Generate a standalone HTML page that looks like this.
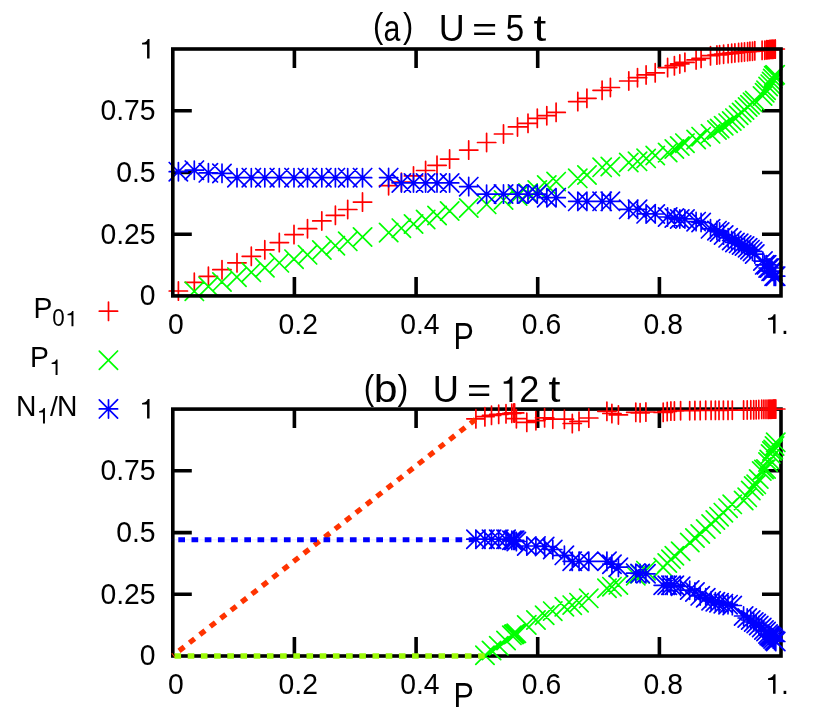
<!DOCTYPE html>
<html><head><meta charset="utf-8"><title>chart</title>
<style>
html,body{margin:0;padding:0;background:#fff}
body{width:830px;height:712px;overflow:hidden;font-family:"Liberation Sans",sans-serif}
svg{display:block;will-change:transform;font-family:"Liberation Sans",sans-serif}
</style></head><body>
<svg width="830" height="712" viewBox="0 0 830 712">
<rect width="830" height="712" fill="#fff"/>
<g id="top">
<path d="M294.4 295.9v-19 M294.4 49v19M416.1 295.9v-19 M416.1 49v19M537.7 295.9v-19 M537.7 49v19M659.4 295.9v-19 M659.4 49v19M172.8 110.8h19 M781 110.8h-19M172.8 172.5h19 M781 172.5h-19M172.8 234.2h19 M781 234.2h-19" stroke="#000" stroke-width="3.6" fill="none"/>
<path d="M169.2 291h18.3M178.4 281.9v18.3M185.2 282.3h18.3M194.3 273.2v18.3M199.2 276.4h18.3M208.4 267.2v18.3M212.8 269.7h18.3M222 260.6v18.3M227.8 262.8h18.3M237 253.7v18.3M242.2 256.3h18.3M251.3 247.2v18.3M255.7 249.8h18.3M264.8 240.7v18.3M270.2 242.6h18.3M279.3 233.4v18.3M284.9 234.6h18.3M294 225.4v18.3M298.4 228.7h18.3M307.5 219.5v18.3M312.7 220.9h18.3M321.8 211.8v18.3M326.2 215.3h18.3M335.4 206.2v18.3M338.6 209.5h18.3M347.7 200.3v18.3M353.4 202.1h18.3M362.5 192.9v18.3M379.5 185.7h18.3M388.6 176.5v18.3M392.2 182.2h18.3M401.4 173v18.3M404.4 175.9h18.3M413.5 166.8v18.3M416.5 170.5h18.3M425.6 161.3v18.3M427.9 165.3h18.3M437 156.2v18.3M440.5 159.1h18.3M449.6 149.9v18.3M459.6 150.1h18.3M468.7 140.9v18.3M477.5 142.5h18.3M486.6 133.3v18.3M494.4 134h18.3M503.5 124.8v18.3M508.4 126.9h18.3M517.5 117.8v18.3M518.9 123.3h18.3M528 114.1v18.3M528.1 118.3h18.3M537.3 109.1v18.3M537.6 115.7h18.3M546.8 106.5v18.3M547 112.4h18.3M556.1 103.2v18.3M568.6 101.6h18.3M577.8 92.4v18.3M577.8 98.3h18.3M586.9 89.1v18.3M593 90.3h18.3M602.1 81.1v18.3M601.2 87.5h18.3M610.4 78.3v18.3M619.6 81h18.3M628.8 71.8v18.3M628.4 77.7h18.3M637.5 68.5v18.3M637 74.9h18.3M646.1 65.8v18.3M646.1 72.8h18.3M655.2 63.6v18.3M658.5 67.6h18.3M667.6 58.4v18.3M665.2 65.7h18.3M674.4 56.6v18.3M670.6 63.9h18.3M679.8 54.8v18.3M675.8 62.4h18.3M684.9 53.2v18.3M687 59.9h18.3M696.1 50.8v18.3M692 58.4h18.3M701.1 49.2v18.3M701.4 55.7h18.3M710.5 46.6v18.3M707.8 55h18.3M716.9 45.9v18.3M710.5 54.6h18.3M719.6 45.5v18.3M714.5 54.1h18.3M723.6 45v18.3M719 53.6h18.3M728.1 44.5v18.3M722.6 53.2h18.3M731.7 44.1v18.3M725.8 52.9h18.3M734.9 43.8v18.3M729.5 52.5h18.3M738.6 43.4v18.3M732.5 52.2h18.3M741.6 43.1v18.3M735.4 51.9h18.3M744.5 42.8v18.3M738.5 51.6h18.3M747.6 42.5v18.3M740.8 51.4h18.3M749.9 42.2v18.3M743.4 51.1h18.3M752.5 42v18.3M745.6 50.8h18.3M754.8 41.6v18.3M753 50.3h18.3M762.1 41.1v18.3M755.6 50.1h18.3M764.8 41v18.3M757.5 49.8h18.3M766.6 40.6v18.3M758.9 49.7h18.3M768 40.5v18.3M760.4 49.5h18.3M769.5 40.4v18.3M761.8 49.4h18.3M771 40.2v18.3M763.2 49.3h18.3M772.4 40.1v18.3M764.7 49.1h18.3M773.8 40v18.3M766.1 49h18.3M775.3 39.9v18.3" stroke="#f00" stroke-width="1.7" stroke-linecap="round" fill="none"/>
<path d="M185.2 282.2l18.3 18.3M185.2 300.4l18.3 -18.3M199.2 277.4l18.3 18.3M199.2 295.6l18.3 -18.3M212.8 272.8l18.3 18.3M212.8 291l18.3 -18.3M227.8 268l18.3 18.3M227.8 286.2l18.3 -18.3M242.2 263.2l18.3 18.3M242.2 281.4l18.3 -18.3M255.7 258.6l18.3 18.3M255.7 276.8l18.3 -18.3M270.2 253.7l18.3 18.3M270.2 272l18.3 -18.3M284.9 250l18.3 18.3M284.9 268.2l18.3 -18.3M298.4 245.7l18.3 18.3M298.4 263.9l18.3 -18.3M312.7 240.8l18.3 18.3M312.7 259.1l18.3 -18.3M326.2 236.5l18.3 18.3M326.2 254.8l18.3 -18.3M338.6 232.2l18.3 18.3M338.6 250.5l18.3 -18.3M353.4 227.8l18.3 18.3M353.4 246.2l18.3 -18.3M379.5 223.4l18.3 18.3M379.5 241.8l18.3 -18.3M392.2 219l18.3 18.3M392.2 237.3l18.3 -18.3M404.4 214.8l18.3 18.3M404.4 233.1l18.3 -18.3M416.5 210.3l18.3 18.3M416.5 228.7l18.3 -18.3M427.9 206.3l18.3 18.3M427.9 224.7l18.3 -18.3M440.5 201.8l18.3 18.3M440.5 220.2l18.3 -18.3M459.6 198.8l18.3 18.3M459.6 217.1l18.3 -18.3M477.5 195.2l18.3 18.3M477.5 213.5l18.3 -18.3M494.4 190.8l18.3 18.3M494.4 209.2l18.3 -18.3M508.4 186.8l18.3 18.3M508.4 205.2l18.3 -18.3M518.9 183.8l18.3 18.3M518.9 202.2l18.3 -18.3M528.1 180.8l18.3 18.3M528.1 199.2l18.3 -18.3M537.6 175.8l18.3 18.3M537.6 194.2l18.3 -18.3M547 172.4l18.3 18.3M547 190.8l18.3 -18.3M568.6 169.2l18.3 18.3M568.6 187.5l18.3 -18.3M577.8 165.8l18.3 18.3M577.8 184.1l18.3 -18.3M593 158.2l18.3 18.3M593 176.5l18.3 -18.3M601.2 157.3l18.3 18.3M601.2 175.7l18.3 -18.3M619.6 153.3l18.3 18.3M619.6 171.7l18.3 -18.3M628.4 152.2l18.3 18.3M628.4 170.5l18.3 -18.3M637 149.2l18.3 18.3M637 167.6l18.3 -18.3M646.1 146.3l18.3 18.3M646.1 164.7l18.3 -18.3M658.5 143.4l18.3 18.3M658.5 161.8l18.3 -18.3M665.2 139.8l18.3 18.3M665.2 158.2l18.3 -18.3M670.6 136.9l18.3 18.3M670.6 155.2l18.3 -18.3M675.8 134l18.3 18.3M675.8 152.3l18.3 -18.3M687 130.4l18.3 18.3M687 148.8l18.3 -18.3M692 127.5l18.3 18.3M692 145.8l18.3 -18.3M701.4 124.7l18.3 18.3M701.4 143l18.3 -18.3M707.8 120.8l18.3 18.3M707.8 139.2l18.3 -18.3M710.5 119.3l18.3 18.3M710.5 137.7l18.3 -18.3M714.5 116.6l18.3 18.3M714.5 134.9l18.3 -18.3M719 114l18.3 18.3M719 132.3l18.3 -18.3M722.6 111.8l18.3 18.3M722.6 130.1l18.3 -18.3M725.8 109l18.3 18.3M725.8 127.4l18.3 -18.3M729.5 106.1l18.3 18.3M729.5 124.5l18.3 -18.3M732.5 103.4l18.3 18.3M732.5 121.8l18.3 -18.3M735.4 100.8l18.3 18.3M735.4 119.2l18.3 -18.3M738.5 97.8l18.3 18.3M738.5 116.2l18.3 -18.3M740.8 95.6l18.3 18.3M740.8 114l18.3 -18.3M743.4 93.1l18.3 18.3M743.4 111.5l18.3 -18.3M745.6 91.3l18.3 18.3M745.6 109.7l18.3 -18.3M753.4 86.8l18.3 18.3M753.4 105.1l18.3 -18.3M755.5 83.6l18.3 18.3M755.5 102l18.3 -18.3M756.9 81.1l18.3 18.3M756.9 99.5l18.3 -18.3M759 77.4l18.3 18.3M759 95.8l18.3 -18.3M761.1 75l18.3 18.3M761.1 93.4l18.3 -18.3M762.5 72.3l18.3 18.3M762.5 90.7l18.3 -18.3M763.6 69.3l18.3 18.3M763.6 87.7l18.3 -18.3M764.6 66.6l18.3 18.3M764.6 85l18.3 -18.3M766 65.6l18.3 18.3M766 84l18.3 -18.3" stroke="#0f0" stroke-width="1.7" stroke-linecap="round" fill="none"/>
<path d="M169.2 171.7h18.3M178.4 162.5v18.3M169.2 162.5l18.3 18.3M169.2 180.8l18.3 -18.3M185.2 170.2h18.3M194.3 161v18.3M185.2 161l18.3 18.3M185.2 179.3l18.3 -18.3M199.2 172.8h18.3M208.4 163.7v18.3M199.2 163.7l18.3 18.3M199.2 182l18.3 -18.3M212.8 173.4h18.3M222 164.2v18.3M212.8 164.2l18.3 18.3M212.8 182.6l18.3 -18.3M227.8 177.7h18.3M237 168.5v18.3M227.8 168.5l18.3 18.3M227.8 186.8l18.3 -18.3M242.2 177.7h18.3M251.3 168.5v18.3M242.2 168.5l18.3 18.3M242.2 186.8l18.3 -18.3M255.7 177.7h18.3M264.8 168.5v18.3M255.7 168.5l18.3 18.3M255.7 186.8l18.3 -18.3M270.2 177.7h18.3M279.3 168.5v18.3M270.2 168.5l18.3 18.3M270.2 186.8l18.3 -18.3M284.9 177.7h18.3M294 168.5v18.3M284.9 168.5l18.3 18.3M284.9 186.8l18.3 -18.3M298.4 177.7h18.3M307.5 168.5v18.3M298.4 168.5l18.3 18.3M298.4 186.8l18.3 -18.3M312.7 177.7h18.3M321.8 168.5v18.3M312.7 168.5l18.3 18.3M312.7 186.8l18.3 -18.3M326.2 177.7h18.3M335.4 168.5v18.3M326.2 168.5l18.3 18.3M326.2 186.8l18.3 -18.3M338.6 177.7h18.3M347.7 168.5v18.3M338.6 168.5l18.3 18.3M338.6 186.8l18.3 -18.3M353.4 177.7h18.3M362.5 168.5v18.3M353.4 168.5l18.3 18.3M353.4 186.8l18.3 -18.3M379.5 177.6h18.3M388.6 168.4v18.3M379.5 168.4l18.3 18.3M379.5 186.8l18.3 -18.3M392.2 182.9h18.3M401.4 173.8v18.3M392.2 173.8l18.3 18.3M392.2 192.1l18.3 -18.3M404.4 182.9h18.3M413.5 173.8v18.3M404.4 173.8l18.3 18.3M404.4 192.1l18.3 -18.3M416.5 182.9h18.3M425.6 173.8v18.3M416.5 173.8l18.3 18.3M416.5 192.1l18.3 -18.3M427.9 182.9h18.3M437 173.8v18.3M427.9 173.8l18.3 18.3M427.9 192.1l18.3 -18.3M440.5 182.9h18.3M449.6 173.8v18.3M440.5 173.8l18.3 18.3M440.5 192.1l18.3 -18.3M459.6 186.6h18.3M468.7 177.4v18.3M459.6 177.4l18.3 18.3M459.6 195.8l18.3 -18.3M477.5 194.2h18.3M486.6 185v18.3M477.5 185l18.3 18.3M477.5 203.3l18.3 -18.3M494.4 194.1h18.3M503.5 184.9v18.3M494.4 184.9l18.3 18.3M494.4 203.2l18.3 -18.3M508.4 194.1h18.3M517.5 184.9v18.3M508.4 184.9l18.3 18.3M508.4 203.2l18.3 -18.3M518.9 194.1h18.3M528 184.9v18.3M518.9 184.9l18.3 18.3M518.9 203.2l18.3 -18.3M528.1 194.1h18.3M537.3 184.9v18.3M528.1 184.9l18.3 18.3M528.1 203.2l18.3 -18.3M537.6 197.7h18.3M546.8 188.5v18.3M537.6 188.5l18.3 18.3M537.6 206.8l18.3 -18.3M547 197.7h18.3M556.1 188.5v18.3M547 188.5l18.3 18.3M547 206.8l18.3 -18.3M568.6 201.3h18.3M577.8 192.2v18.3M568.6 192.2l18.3 18.3M568.6 210.5l18.3 -18.3M577.8 201.3h18.3M586.9 192.2v18.3M577.8 192.2l18.3 18.3M577.8 210.5l18.3 -18.3M593 201.3h18.3M602.1 192.2v18.3M593 192.2l18.3 18.3M593 210.5l18.3 -18.3M601.2 201.3h18.3M610.4 192.2v18.3M601.2 192.2l18.3 18.3M601.2 210.5l18.3 -18.3M619.6 209.3h18.3M628.8 200.2v18.3M619.6 200.2l18.3 18.3M619.6 218.5l18.3 -18.3M628.4 209.3h18.3M637.5 200.2v18.3M628.4 200.2l18.3 18.3M628.4 218.5l18.3 -18.3M637 213.8h18.3M646.1 204.7v18.3M637 204.7l18.3 18.3M637 223l18.3 -18.3M646.1 214h18.3M655.2 204.8v18.3M646.1 204.8l18.3 18.3M646.1 223.2l18.3 -18.3M658.5 217h18.3M667.6 207.8v18.3M658.5 207.8l18.3 18.3M658.5 226.2l18.3 -18.3M665.2 218h18.3M674.4 208.8v18.3M665.2 208.8l18.3 18.3M665.2 227.2l18.3 -18.3M670.6 218.9h18.3M679.8 209.8v18.3M670.6 209.8l18.3 18.3M670.6 228.1l18.3 -18.3M675.8 218.9h18.3M684.9 209.8v18.3M675.8 209.8l18.3 18.3M675.8 228.1l18.3 -18.3M687 221.6h18.3M696.1 212.4v18.3M687 212.4l18.3 18.3M687 230.8l18.3 -18.3M692 222.5h18.3M701.1 213.3v18.3M692 213.3l18.3 18.3M692 231.7l18.3 -18.3M701.4 228.8h18.3M710.5 219.7v18.3M701.4 219.7l18.3 18.3M701.4 238l18.3 -18.3M707.8 230.6h18.3M716.9 221.4v18.3M707.8 221.4l18.3 18.3M707.8 239.8l18.3 -18.3M710.5 232h18.3M719.6 222.8v18.3M710.5 222.8l18.3 18.3M710.5 241.2l18.3 -18.3M714.5 235.1h18.3M723.6 225.9v18.3M714.5 225.9l18.3 18.3M714.5 244.2l18.3 -18.3M719 237.8h18.3M728.1 228.7v18.3M719 228.7l18.3 18.3M719 247l18.3 -18.3M722.6 240.5h18.3M731.7 231.3v18.3M722.6 231.3l18.3 18.3M722.6 249.7l18.3 -18.3M725.8 242.4h18.3M734.9 233.2v18.3M725.8 233.2l18.3 18.3M725.8 251.6l18.3 -18.3M729.5 243.3h18.3M738.6 234.2v18.3M729.5 234.2l18.3 18.3M729.5 252.5l18.3 -18.3M732.5 245h18.3M741.6 235.8v18.3M732.5 235.8l18.3 18.3M732.5 254.2l18.3 -18.3M735.4 246h18.3M744.5 236.8v18.3M735.4 236.8l18.3 18.3M735.4 255.2l18.3 -18.3M738.5 247.8h18.3M747.6 238.7v18.3M738.5 238.7l18.3 18.3M738.5 256.9l18.3 -18.3M740.8 249.6h18.3M749.9 240.4v18.3M740.8 240.4l18.3 18.3M740.8 258.8l18.3 -18.3M743.4 251.4h18.3M752.5 242.2v18.3M743.4 242.2l18.3 18.3M743.4 260.6l18.3 -18.3M745.6 254.1h18.3M754.8 244.9v18.3M745.6 244.9l18.3 18.3M745.6 263.2l18.3 -18.3M753.8 261.1h18.3M762.9 252v18.3M753.8 252l18.3 18.3M753.8 270.2l18.3 -18.3M755.6 264.9h18.3M764.8 255.7v18.3M755.6 255.7l18.3 18.3M755.6 274l18.3 -18.3M757.5 264.9h18.3M766.6 255.7v18.3M757.5 255.7l18.3 18.3M757.5 274l18.3 -18.3M759 268h18.3M768.1 258.9v18.3M759 258.9l18.3 18.3M759 277.1l18.3 -18.3M760.5 268h18.3M769.6 258.9v18.3M760.5 258.9l18.3 18.3M760.5 277.1l18.3 -18.3M762 271.2h18.3M771.1 262.1v18.3M762 262.1l18.3 18.3M762 280.3l18.3 -18.3M763.5 271.2h18.3M772.6 262.1v18.3M763.5 262.1l18.3 18.3M763.5 280.3l18.3 -18.3M765 276.2h18.3M774.1 267.1v18.3M765 267.1l18.3 18.3M765 285.3l18.3 -18.3M766.5 276.2h18.3M775.6 267.1v18.3M766.5 267.1l18.3 18.3M766.5 285.3l18.3 -18.3" stroke="#00f" stroke-width="1.7" stroke-linecap="round" fill="none"/>
<rect x="172.8" y="49" width="608.2" height="246.9" stroke="#000" stroke-width="3.6" fill="none"/>
<g font-size="28.3" fill="#000"><path transform="translate(139 58.4) scale(0.01382 -0.01322)" d="M763 0H583V1050H223V1180Q400 1190 500 1262T640 1472H763Z"/><text transform="translate(155.6 120.2) scale(1 1.07)" text-anchor="end">0.75</text><text transform="translate(155.6 181.9) scale(1 1.07)" text-anchor="end">0.5</text><text transform="translate(155.6 243.6) scale(1 1.07)" text-anchor="end">0.25</text><text transform="translate(155.6 305.3) scale(1 1.07)" text-anchor="end">0</text><text transform="translate(175.9 333.6) scale(1 1.07)" text-anchor="middle">0</text><text transform="translate(298.2 333.6) scale(1 1.07)" text-anchor="middle">0.2</text><text transform="translate(419.9 333.6) scale(1 1.07)" text-anchor="middle">0.4</text><text transform="translate(541.5 333.6) scale(1 1.07)" text-anchor="middle">0.6</text><text transform="translate(663.2 333.6) scale(1 1.07)" text-anchor="middle">0.8</text><path transform="translate(765 333.6) scale(0.01382 -0.01322)" d="M763 0H583V1050H223V1180Q400 1190 500 1262T640 1472H763Z"/><text transform="translate(780.9 333.6) scale(1 1.07)">.</text></g>
</g>
<g id="bot">
<path d="M294.4 656v-19 M294.4 409.1v19M416.1 656v-19 M416.1 409.1v19M537.7 656v-19 M537.7 409.1v19M659.4 656v-19 M659.4 409.1v19M172.8 470.8h19 M781 470.8h-19M172.8 532.6h19 M781 532.6h-19M172.8 594.3h19 M781 594.3h-19" stroke="#000" stroke-width="3.6" fill="none"/><rect x="172.8" y="409.1" width="608.2" height="246.9" stroke="#000" stroke-width="3.6" fill="none"/>
<g font-size="28.3" fill="#000"><path transform="translate(139 418.5) scale(0.01382 -0.01322)" d="M763 0H583V1050H223V1180Q400 1190 500 1262T640 1472H763Z"/><text transform="translate(155.6 480.2) scale(1 1.07)" text-anchor="end">0.75</text><text transform="translate(155.6 542) scale(1 1.07)" text-anchor="end">0.5</text><text transform="translate(155.6 603.7) scale(1 1.07)" text-anchor="end">0.25</text><text transform="translate(155.6 665.4) scale(1 1.07)" text-anchor="end">0</text><text transform="translate(175.9 693.8) scale(1 1.07)" text-anchor="middle">0</text><text transform="translate(298.2 693.8) scale(1 1.07)" text-anchor="middle">0.2</text><text transform="translate(419.9 693.8) scale(1 1.07)" text-anchor="middle">0.4</text><text transform="translate(541.5 693.8) scale(1 1.07)" text-anchor="middle">0.6</text><text transform="translate(663.2 693.8) scale(1 1.07)" text-anchor="middle">0.8</text><path transform="translate(765 693.8) scale(0.01382 -0.01322)" d="M763 0H583V1050H223V1180Q400 1190 500 1262T640 1472H763Z"/><text transform="translate(780.9 693.8) scale(1 1.07)">.</text></g>
<path d="M466.8 418.8h18.3M475.9 409.7v18.3M475.8 416.7h18.3M484.9 407.6v18.3M482.4 415.4h18.3M491.5 406.2v18.3M489.6 414.4h18.3M498.7 405.2v18.3M496.9 413.8h18.3M506 404.7v18.3M502.7 413.3h18.3M511.8 404.2v18.3M504.6 412.9h18.3M513.8 403.8v18.3M505.5 412.9h18.3M514.6 403.8v18.3M507.2 418.6h18.3M516.4 409.5v18.3M517.6 422.4h18.3M526.8 413.2v18.3M526.8 420.6h18.3M535.9 411.5v18.3M535.5 417.8h18.3M544.6 408.7v18.3M543.6 419.1h18.3M552.8 410v18.3M555.2 419.2h18.3M564.4 410.1v18.3M563.1 423.5h18.3M572.3 414.4v18.3M569.9 421.4h18.3M579 412.2v18.3M579.6 418h18.3M588.8 408.9v18.3M597.8 411.3h18.3M606.9 402.2v18.3M602.8 413.5h18.3M611.9 404.4v18.3M609.2 414.9h18.3M618.4 405.8v18.3M626.6 412.4h18.3M635.8 403.2v18.3M631 412.8h18.3M640.1 403.7v18.3M636.8 412h18.3M645.9 402.9v18.3M654.1 412.4h18.3M663.2 403.2v18.3M658.1 411.5h18.3M667.2 402.4v18.3M661.8 411h18.3M670.9 401.9v18.3M665.2 411h18.3M674.4 401.9v18.3M671.5 410.6h18.3M680.6 401.5v18.3M680.6 410.6h18.3M689.7 401.5v18.3M685.8 410.5h18.3M694.9 401.4v18.3M691.1 410.5h18.3M700.2 401.4v18.3M696.6 410.4h18.3M705.7 401.2v18.3M702 410.4h18.3M711.1 401.2v18.3M706.2 410.3h18.3M715.4 401.2v18.3M709.9 410.3h18.3M719 401.2v18.3M714.2 410.2h18.3M723.4 401.1v18.3M718.9 410.2h18.3M728 401.1v18.3M723.1 410.1h18.3M732.3 401v18.3M734.5 410h18.3M743.6 400.9v18.3M738.1 409.9h18.3M747.2 400.8v18.3M741.6 409.8h18.3M750.8 400.7v18.3M744.6 409.7h18.3M753.7 400.6v18.3M747.1 409.6h18.3M756.2 400.5v18.3M749.6 409.5h18.3M758.8 400.4v18.3M752.6 409.4h18.3M761.7 400.2v18.3M754.8 409.3h18.3M763.9 400.2v18.3M756.9 409.2h18.3M766 400.1v18.3M758.9 409.2h18.3M768 400.1v18.3M760.1 409.2h18.3M769.3 400v18.3M761.5 409.1h18.3M770.6 400v18.3M762.8 409.1h18.3M771.9 400v18.3M764 409.1h18.3M773.2 399.9v18.3M765.4 409h18.3M774.5 399.9v18.3M766.6 409h18.3M775.8 399.9v18.3" stroke="#f00" stroke-width="1.7" stroke-linecap="round" fill="none"/>
<path d="M475.8 646.1l18.3 18.3M475.8 664.4l18.3 -18.3M482.4 641.4l18.3 18.3M482.4 659.6l18.3 -18.3M489.6 636.6l18.3 18.3M489.6 654.9l18.3 -18.3M496.9 631.4l18.3 18.3M496.9 649.6l18.3 -18.3M502.7 626.2l18.3 18.3M502.7 644.5l18.3 -18.3M504.6 625.4l18.3 18.3M504.6 643.6l18.3 -18.3M505.5 624.8l18.3 18.3M505.5 643l18.3 -18.3M507.2 624.1l18.3 18.3M507.2 642.4l18.3 -18.3M517.6 615.8l18.3 18.3M517.6 634l18.3 -18.3M526.8 610.9l18.3 18.3M526.8 629.1l18.3 -18.3M535.5 606.1l18.3 18.3M535.5 624.4l18.3 -18.3M543.6 602l18.3 18.3M543.6 620.2l18.3 -18.3M555.2 597.6l18.3 18.3M555.2 615.9l18.3 -18.3M563.1 596l18.3 18.3M563.1 614.2l18.3 -18.3M569.9 593.5l18.3 18.3M569.9 611.8l18.3 -18.3M579.6 589.2l18.3 18.3M579.6 607.5l18.3 -18.3M597.8 579.1l18.3 18.3M597.8 597.4l18.3 -18.3M602.8 577.5l18.3 18.3M602.8 595.8l18.3 -18.3M609.2 575.8l18.3 18.3M609.2 594l18.3 -18.3M626.6 566.5l18.3 18.3M626.6 584.8l18.3 -18.3M631 564.8l18.3 18.3M631 583l18.3 -18.3M636.8 561.5l18.3 18.3M636.8 579.8l18.3 -18.3M654.1 558.4l18.3 18.3M654.1 576.6l18.3 -18.3M658.1 553.9l18.3 18.3M658.1 572.1l18.3 -18.3M661.8 550.1l18.3 18.3M661.8 568.4l18.3 -18.3M665.2 546.6l18.3 18.3M665.2 564.9l18.3 -18.3M671.5 542.1l18.3 18.3M671.5 560.4l18.3 -18.3M680.6 533.4l18.3 18.3M680.6 551.6l18.3 -18.3M685.8 528.9l18.3 18.3M685.8 547.1l18.3 -18.3M691.1 524.8l18.3 18.3M691.1 543l18.3 -18.3M696.6 519.9l18.3 18.3M696.6 538.1l18.3 -18.3M702 514.9l18.3 18.3M702 533.1l18.3 -18.3M706.2 510.9l18.3 18.3M706.2 529.1l18.3 -18.3M709.9 507.5l18.3 18.3M709.9 525.8l18.3 -18.3M714.2 503.5l18.3 18.3M714.2 521.8l18.3 -18.3M718.9 499l18.3 18.3M718.9 517.2l18.3 -18.3M723.1 495.2l18.3 18.3M723.1 513.5l18.3 -18.3M734.5 491.4l18.3 18.3M734.5 509.6l18.3 -18.3M738.1 488.2l18.3 18.3M738.1 506.5l18.3 -18.3M741.6 481.4l18.3 18.3M741.6 499.6l18.3 -18.3M744.6 476.9l18.3 18.3M744.6 495.1l18.3 -18.3M747.1 475.2l18.3 18.3M747.1 493.4l18.3 -18.3M749.6 469.9l18.3 18.3M749.6 488.1l18.3 -18.3M752.6 461.9l18.3 18.3M752.6 480.1l18.3 -18.3M754.8 460.4l18.3 18.3M754.8 478.6l18.3 -18.3M756.9 459.8l18.3 18.3M756.9 478l18.3 -18.3M758.9 452.9l18.3 18.3M758.9 471.1l18.3 -18.3M760.1 450.4l18.3 18.3M760.1 468.6l18.3 -18.3M761.5 444.9l18.3 18.3M761.5 463.1l18.3 -18.3M762.8 441.9l18.3 18.3M762.8 460.1l18.3 -18.3M764.1 440.4l18.3 18.3M764.1 458.6l18.3 -18.3M765.4 436.9l18.3 18.3M765.4 455.1l18.3 -18.3M766.6 433.2l18.3 18.3M766.6 451.5l18.3 -18.3" stroke="#0f0" stroke-width="1.7" stroke-linecap="round" fill="none"/>
<path d="M466.8 539.2h18.3M475.9 530.1v18.3M466.8 530.1l18.3 18.3M466.8 548.4l18.3 -18.3M475.8 539.2h18.3M484.9 530.1v18.3M475.8 530.1l18.3 18.3M475.8 548.4l18.3 -18.3M482.4 539.2h18.3M491.5 530.1v18.3M482.4 530.1l18.3 18.3M482.4 548.4l18.3 -18.3M489.6 539.2h18.3M498.7 530.1v18.3M489.6 530.1l18.3 18.3M489.6 548.4l18.3 -18.3M496.9 539.2h18.3M506 530.1v18.3M496.9 530.1l18.3 18.3M496.9 548.4l18.3 -18.3M502.7 540.3h18.3M511.8 531.1v18.3M502.7 531.1l18.3 18.3M502.7 549.4l18.3 -18.3M504.6 540.3h18.3M513.8 531.1v18.3M504.6 531.1l18.3 18.3M504.6 549.4l18.3 -18.3M505.5 540.3h18.3M514.6 531.1v18.3M505.5 531.1l18.3 18.3M505.5 549.4l18.3 -18.3M507.2 541.5h18.3M516.4 532.4v18.3M507.2 532.4l18.3 18.3M507.2 550.6l18.3 -18.3M517.6 546h18.3M526.8 536.9v18.3M517.6 536.9l18.3 18.3M517.6 555.1l18.3 -18.3M526.8 546h18.3M535.9 536.9v18.3M526.8 536.9l18.3 18.3M526.8 555.1l18.3 -18.3M535.5 546.5h18.3M544.6 537.4v18.3M535.5 537.4l18.3 18.3M535.5 555.6l18.3 -18.3M543.6 549.5h18.3M552.8 540.4v18.3M543.6 540.4l18.3 18.3M543.6 558.6l18.3 -18.3M555.2 555.4h18.3M564.4 546.2v18.3M555.2 546.2l18.3 18.3M555.2 564.5l18.3 -18.3M563.1 561.3h18.3M572.3 552.1v18.3M563.1 552.1l18.3 18.3M563.1 570.4l18.3 -18.3M569.9 561.3h18.3M579 552.1v18.3M569.9 552.1l18.3 18.3M569.9 570.4l18.3 -18.3M579.6 561.3h18.3M588.8 552.1v18.3M579.6 552.1l18.3 18.3M579.6 570.4l18.3 -18.3M597.8 561.3h18.3M606.9 552.1v18.3M597.8 552.1l18.3 18.3M597.8 570.4l18.3 -18.3M602.8 564.2h18.3M611.9 555.1v18.3M602.8 555.1l18.3 18.3M602.8 573.4l18.3 -18.3M609.2 567.2h18.3M618.4 558.1v18.3M609.2 558.1l18.3 18.3M609.2 576.4l18.3 -18.3M626.6 573.1h18.3M635.8 564v18.3M626.6 564l18.3 18.3M626.6 582.2l18.3 -18.3M631 573.5h18.3M640.1 564.4v18.3M631 564.4l18.3 18.3M631 582.6l18.3 -18.3M636.8 573.8h18.3M645.9 564.6v18.3M636.8 564.6l18.3 18.3M636.8 582.9l18.3 -18.3M654.1 585.3h18.3M663.2 576.1v18.3M654.1 576.1l18.3 18.3M654.1 594.4l18.3 -18.3M658.1 585.3h18.3M667.2 576.1v18.3M658.1 576.1l18.3 18.3M658.1 594.4l18.3 -18.3M661.8 585.3h18.3M670.9 576.1v18.3M661.8 576.1l18.3 18.3M661.8 594.4l18.3 -18.3M665.2 585.3h18.3M674.4 576.1v18.3M665.2 576.1l18.3 18.3M665.2 594.4l18.3 -18.3M671.5 586.3h18.3M680.6 577.1v18.3M671.5 577.1l18.3 18.3M671.5 595.4l18.3 -18.3M680.6 590.1h18.3M689.7 581v18.3M680.6 581l18.3 18.3M680.6 599.2l18.3 -18.3M685.8 592h18.3M694.9 582.9v18.3M685.8 582.9l18.3 18.3M685.8 601.1l18.3 -18.3M691.1 595.9h18.3M700.2 586.8v18.3M691.1 586.8l18.3 18.3M691.1 605l18.3 -18.3M696.6 597.8h18.3M705.7 588.6v18.3M696.6 588.6l18.3 18.3M696.6 606.9l18.3 -18.3M702 600.7h18.3M711.1 591.6v18.3M702 591.6l18.3 18.3M702 609.9l18.3 -18.3M706.2 601.7h18.3M715.4 592.6v18.3M706.2 592.6l18.3 18.3M706.2 610.9l18.3 -18.3M709.9 602.7h18.3M719 593.6v18.3M709.9 593.6l18.3 18.3M709.9 611.9l18.3 -18.3M714.2 603.6h18.3M723.4 594.5v18.3M714.2 594.5l18.3 18.3M714.2 612.8l18.3 -18.3M718.9 604.6h18.3M728 595.5v18.3M718.9 595.5l18.3 18.3M718.9 613.8l18.3 -18.3M723.1 605.5h18.3M732.3 596.4v18.3M723.1 596.4l18.3 18.3M723.1 614.6l18.3 -18.3M734.5 616h18.3M743.6 606.9v18.3M734.5 606.9l18.3 18.3M734.5 625.1l18.3 -18.3M738.1 618h18.3M747.2 608.9v18.3M738.1 608.9l18.3 18.3M738.1 627.1l18.3 -18.3M741.6 620h18.3M750.8 610.9v18.3M741.6 610.9l18.3 18.3M741.6 629.1l18.3 -18.3M744.6 622h18.3M753.7 612.9v18.3M744.6 612.9l18.3 18.3M744.6 631.1l18.3 -18.3M747.1 623.5h18.3M756.2 614.4v18.3M747.1 614.4l18.3 18.3M747.1 632.6l18.3 -18.3M749.6 625.5h18.3M758.8 616.4v18.3M749.6 616.4l18.3 18.3M749.6 634.6l18.3 -18.3M752.6 627.5h18.3M761.7 618.4v18.3M752.6 618.4l18.3 18.3M752.6 636.6l18.3 -18.3M754.8 630h18.3M763.9 620.9v18.3M754.8 620.9l18.3 18.3M754.8 639.1l18.3 -18.3M756.9 631.5h18.3M766 622.4v18.3M756.9 622.4l18.3 18.3M756.9 640.6l18.3 -18.3M758.9 634h18.3M768 624.9v18.3M758.9 624.9l18.3 18.3M758.9 643.1l18.3 -18.3M760.1 635.5h18.3M769.3 626.4v18.3M760.1 626.4l18.3 18.3M760.1 644.6l18.3 -18.3M761.5 636.5h18.3M770.6 627.4v18.3M761.5 627.4l18.3 18.3M761.5 645.6l18.3 -18.3M762.8 637.5h18.3M771.9 628.4v18.3M762.8 628.4l18.3 18.3M762.8 646.6l18.3 -18.3M764 639h18.3M773.2 629.9v18.3M764 629.9l18.3 18.3M764 648.1l18.3 -18.3M765.4 640.5h18.3M774.5 631.4v18.3M765.4 631.4l18.3 18.3M765.4 649.6l18.3 -18.3M766.6 641.5h18.3M775.8 632.4v18.3M766.6 632.4l18.3 18.3M766.6 650.6l18.3 -18.3" stroke="#00f" stroke-width="1.7" stroke-linecap="round" fill="none"/>
<path d="M173 655.6L475.9 419.1" stroke="#ff3300" stroke-width="5.2" stroke-dasharray="6.6 6.6" stroke-dashoffset="5.55" fill="none"/>
<path d="M173 656H484.8" stroke="#9cfa08" stroke-width="5.5" stroke-dasharray="6.6 6.6" stroke-dashoffset="11.7" fill="none"/>
<path d="M171 539.8H474" stroke="#00f" stroke-width="0.6" opacity="0.15" fill="none"/>
<path d="M171.7 539.8H474" stroke="#00f" stroke-width="5" stroke-dasharray="6.7 6.5" stroke-dashoffset="6.6" fill="none"/>
</g>
<g id="titles" fill="#000">
<text transform="translate(373 38.2) scale(0.836 0.945)" font-size="37">(</text><text transform="translate(383.6 40.8) scale(0.820 1.000)" font-size="37">a</text><text transform="translate(403.1 38.2) scale(0.826 0.945)" font-size="37">)</text><text transform="translate(438.7 40.8) scale(0.971 1.000)" font-size="37">U</text><text transform="translate(472.1 40.9) scale(1.168 0.880)" font-size="37">=</text><text transform="translate(505.7 40.8) scale(0.895 1.000)" font-size="37">5</text><text transform="translate(533.4 40.8) scale(1.235 1.000)" font-size="37">t</text><text transform="translate(363.7 399.7) scale(0.847 0.945)" font-size="37">(</text><text transform="translate(373.8 402.1) scale(1.156 1.035)" font-size="37">b</text><text transform="translate(397.6 399.7) scale(0.877 0.945)" font-size="37">)</text><text transform="translate(432.7 402) scale(0.980 1.000)" font-size="37">U</text><text transform="translate(467 402.1) scale(1.123 0.880)" font-size="37">=</text><text transform="translate(519.2 402) scale(0.978 1.000)" font-size="37">2</text><text transform="translate(548.5 402) scale(1.161 1.000)" font-size="37">t</text><path transform="translate(500.1 402) scale(0.01609 -0.01729)" d="M763 0H583V1050H223V1180Q400 1190 500 1262T640 1472H763Z"/><text transform="translate(453.5 349) scale(0.823 1.000)" font-size="37">P</text><text transform="translate(453.5 707.2) scale(0.823 0.970)" font-size="37">P</text>
</g>
<g id="legend" fill="#000">
<g font-size="28.3"><text transform="translate(33.4 317.6) scale(1 1.07)">P</text><text transform="translate(30.1 366.8) scale(1 1.07)">P</text><text transform="translate(16.1 415.5) scale(1 1.07)">N</text><text transform="translate(49.9 415.5) scale(1 1.0)">/</text><text transform="translate(56.9 415.5) scale(1 1.07)">N</text></g><text transform="translate(52.3 326.3) scale(1 1.07)" font-size="22.4">0</text><path transform="translate(65.1 326.3) scale(0.01094 -0.01047)" d="M763 0H583V1050H223V1180Q400 1190 500 1262T640 1472H763Z"/><path transform="translate(49.2 375) scale(0.01094 -0.01047)" d="M763 0H583V1050H223V1180Q400 1190 500 1262T640 1472H763Z"/><path transform="translate(36.6 423.5) scale(0.01094 -0.01047)" d="M763 0H583V1050H223V1180Q400 1190 500 1262T640 1472H763Z"/>
<path d="M99.3 311.2h18.3M108.5 302.1v18.3" stroke="#f00" stroke-width="1.7" stroke-linecap="round" fill="none"/>
<path d="M99.3 351.1l18.3 18.3M99.3 369.3l18.3 -18.3" stroke="#0f0" stroke-width="1.7" stroke-linecap="round" fill="none"/>
<path d="M99.3 408.9h18.3M108.5 399.8v18.3M99.3 399.8l18.3 18.3M99.3 418l18.3 -18.3" stroke="#00f" stroke-width="1.7" stroke-linecap="round" fill="none"/>
</g>
</svg></body></html>
